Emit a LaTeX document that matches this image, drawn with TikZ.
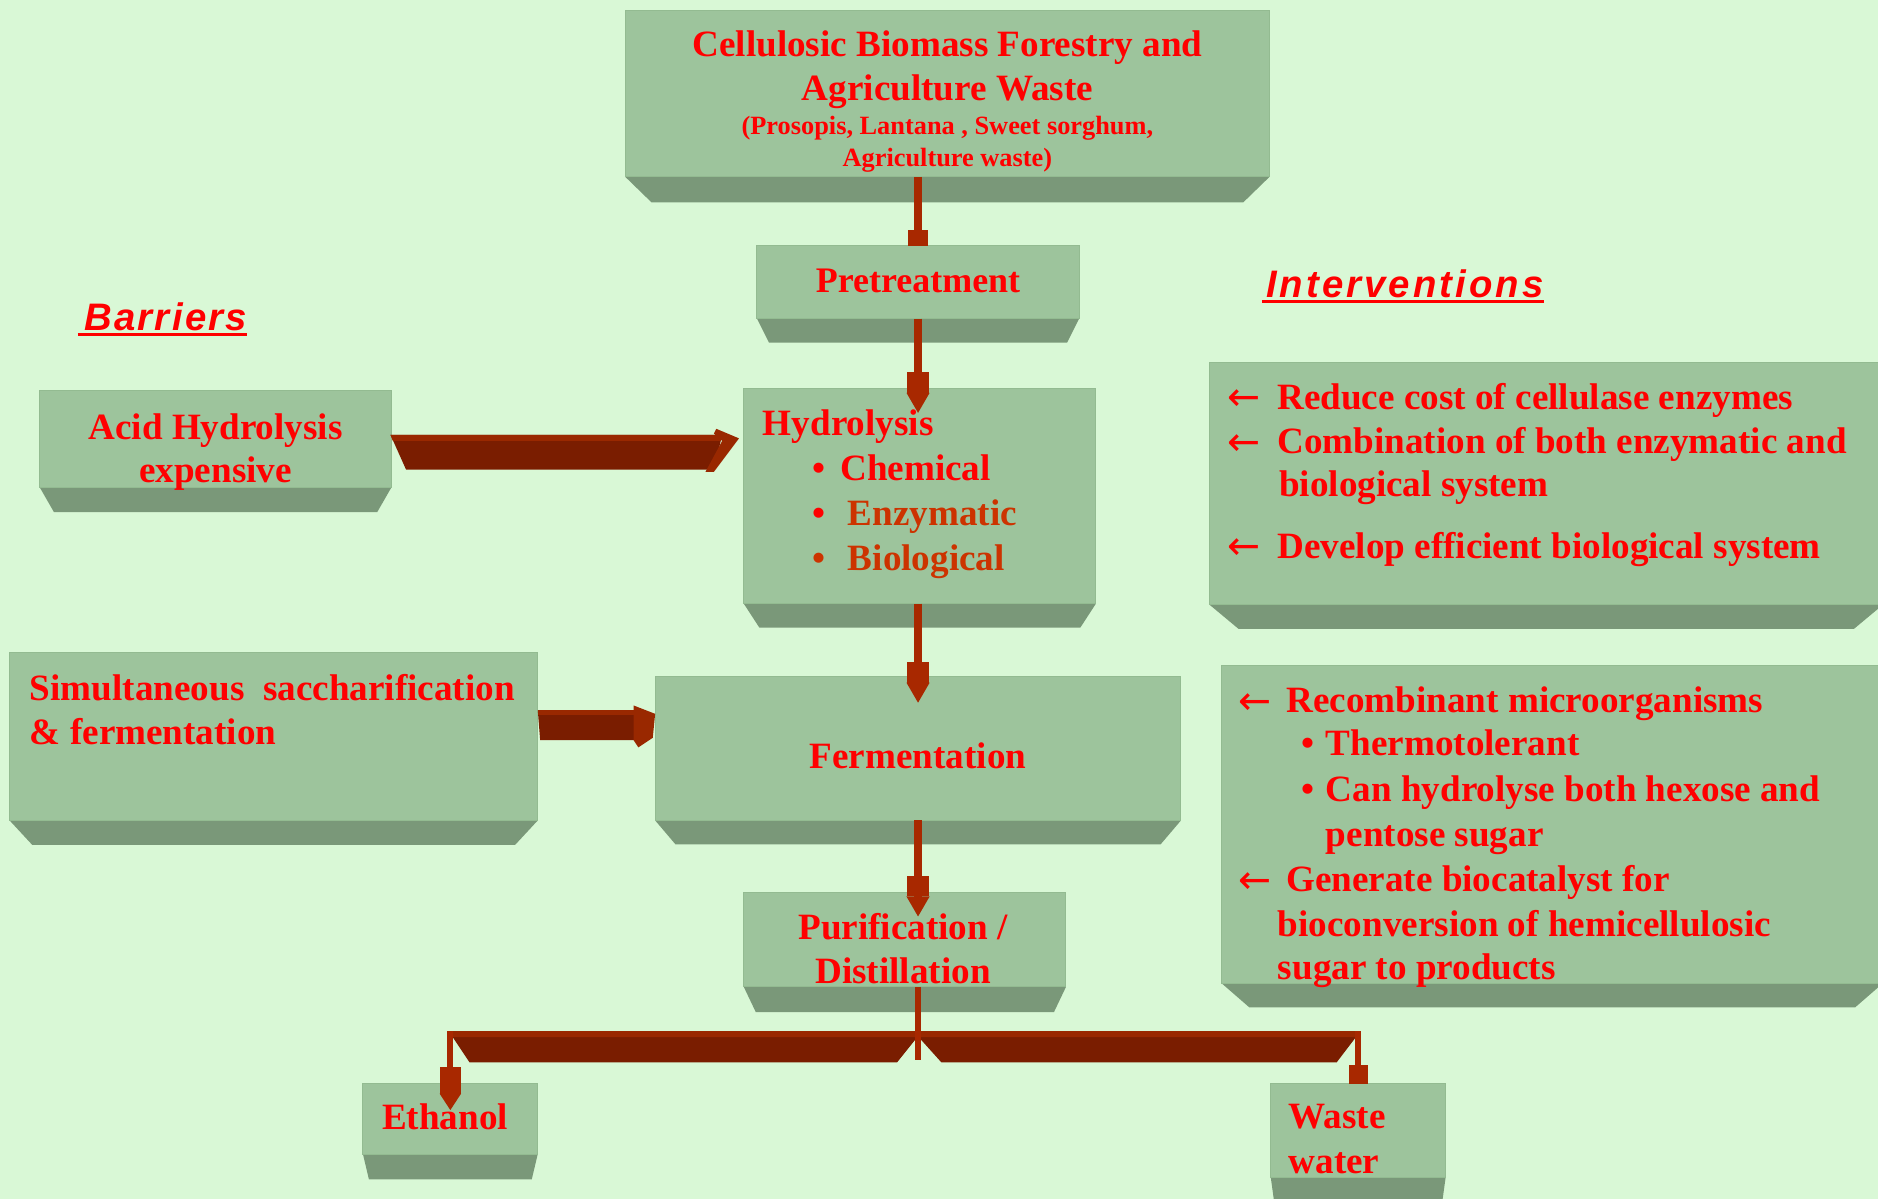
\documentclass[tikz,border=0pt]{standalone}
\usepackage{fontspec}
\setmainfont{Liberation Serif}
\newfontfamily\barfont{Liberation Sans}[LetterSpace=6]
\newfontfamily\intfont{Liberation Sans}[LetterSpace=8]
\newfontfamily\arrfont{DejaVu Sans}
\usetikzlibrary{fit,arrows.meta}
\definecolor{bgc}{HTML}{D9F8D6}
\definecolor{facec}{HTML}{9DC49C}
\definecolor{faceedge}{HTML}{93BB91}
\definecolor{basec}{HTML}{7A9879}
\definecolor{txtred}{HTML}{FF0000}
\definecolor{txtorange}{HTML}{CC3300}
\definecolor{conncol}{HTML}{A82800}
\definecolor{armdark}{HTML}{7A1D00}
\definecolor{armlight}{HTML}{992800}
\tikzset{
  slabface/.style={fill=facec, draw=faceedge, line width=0.8pt, inner sep=0pt, outer sep=0pt},
  slabbase/.style={fill=basec},
  lbl/.style={font=\fontsize{31}{37}\selectfont\bfseries, text=txtred, inner sep=0pt, outer sep=0pt},
  lbls/.style={font=\fontsize{22}{26}\selectfont\bfseries, text=txtred, inner sep=0pt, outer sep=0pt},
  larr/.style={font=\fontsize{33}{37}\selectfont\arrfont, text=txtred, inner sep=0pt, outer sep=0pt, anchor=base west},
  conn/.style={draw=conncol, line width=6pt},
  tipfull/.style={-{Rectangle[length=17pt,width=18pt,sep=0pt]Triangle[length=17pt,width=18pt,sep=0pt]}},
  tipblock/.style={-{Rectangle[length=13pt,width=16pt,sep=0pt]}},
  ul/.style={draw=txtred, line width=2.6pt}
}
\newcommand{\slabbox}[7]{%
  \fill[slabbase] (#2,#5) -- (#4,#5) -- ({#4-#7},#6) -- ({#2+#7},#6) -- cycle;
  \node[slabface, fit={(#2,#3) (#4,#5)}] (#1) {};
}
\begin{document}
\begin{tikzpicture}[x=1pt,y=-1pt]
\fill[bgc] (0,0) rectangle (1568,1001);
\useasboundingbox (0,0) rectangle (1568,1001);

% boxes
\slabbox{title}{522}{8.4}{1060}{147.6}{169}{22}
\slabbox{pre}{632}{205}{901}{266}{286}{10}
\slabbox{acid}{33}{326}{327}{406.6}{427.5}{12}
\slabbox{hyd}{621}{324}{915}{504}{524}{13}
\slabbox{simul}{8}{545}{449}{685}{705.5}{19}
\slabbox{ferm}{547}{565}{986}{685}{705}{17}
\slabbox{purif}{621}{745.5}{890}{824}{845}{10}
\slabbox{eth}{303}{905}{449}{963.5}{984.6}{5}
\slabbox{waste}{1061}{905}{1207}{983}{1012}{4}
\slabbox{intA}{1010}{303}{1572}{505}{525}{24}
\slabbox{intB}{1020}{556}{1572}{821}{841}{23}

% headings
\node[font=\fontsize{32}{36}\selectfont\barfont\bfseries\itshape, text=txtred, inner sep=0pt, anchor=base west] (bar) at (70,276) {Barriers};
\draw[ul] ([shift={(-5,3)}]bar.base west) -- ([shift={(0,3)}]bar.base east);
\node[font=\fontsize{32}{36}\selectfont\intfont\bfseries\itshape, text=txtred, inner sep=0pt, anchor=base west] (intv) at (1057,248) {Interventions};
\draw[ul] ([shift={(-3.5,4)}]intv.base west) -- ([shift={(0,4)}]intv.base east);

% title texts
\node[lbl, anchor=base] (t1) at (791,47) {Cellulosic Biomass Forestry and};
\node[lbl, anchor=base] (t2) at (791,83.5) {Agriculture Waste};
\node[lbls, anchor=base] (t3) at (791,112.7) {(Prosopis, Lantana , Sweet sorghum,};
\node[lbls, anchor=base] (t4) at (791,139) {Agriculture waste)};

\node[lbl, font=\fontsize{30}{36}\selectfont\bfseries, anchor=base] (tpre) at (766.5,244.5) {Pretreatment};

\node[lbl, anchor=base] (ta1) at (180,367) {Acid Hydrolysis};
\node[lbl, anchor=base] (ta2) at (180,403) {expensive};

\node[lbl, anchor=base west] (th0) at (637,364) {Hydrolysis};
\node[lbl, anchor=base west] (hb1) at (678,401) {•};
\node[lbl, anchor=base west] (th1) at (701.5,401) {Chemical};
\node[lbl, anchor=base west] (hb2) at (678,439) {•};
\node[lbl, anchor=base west, text=txtorange] (th2) at (708,439) {Enzymatic};
\node[lbl, anchor=base west, text=txtorange] (hb3) at (678,476) {•};
\node[lbl, anchor=base west, text=txtorange] (th3) at (708,476) {Biological};

\node[lbl, anchor=base west] (ts1) at (25,584.5) {Simultaneous\hspace{0.5em}saccharification};
\node[lbl, anchor=base west] (ts2) at (25,622) {\& fermentation};

\node[lbl, anchor=base] (tf) at (766.5,642) {Fermentation};

\node[lbl, anchor=base] (tp1) at (754,784) {Purification /};
\node[lbl, anchor=base] (tp2) at (754,821) {Distillation};

\node[lbl, anchor=base west] (te) at (319,943) {Ethanol};
\node[lbl, anchor=base west] (tw1) at (1076,942) {Waste};
\node[lbl, anchor=base west] (tw2) at (1076,979.5) {water};

\node[larr] (a1) at (1025,343) {←};
\node[lbl, anchor=base west] (i1) at (1066.5,341.6) {Reduce cost of cellulase enzymes};
\node[larr] (a2) at (1025,380) {←};
\node[lbl, anchor=base west] (i2) at (1066.5,378.5) {Combination of both enzymatic and};
\node[lbl, anchor=base west] (i3) at (1068,414.7) {biological system};
\node[larr] (a3) at (1025,467.5) {←};
\node[lbl, anchor=base west] (i4) at (1066.5,466) {Develop efficient biological system};

\node[larr] (a4) at (1034,596.5) {←};
\node[lbl, anchor=base west] (j1) at (1074,595) {Recombinant microorganisms};
\node[lbl, anchor=base west] (jb1) at (1087,631) {•};
\node[lbl, anchor=base west] (j2) at (1107,631) {Thermotolerant};
\node[lbl, anchor=base west] (jb2) at (1087,669.4) {•};
\node[lbl, anchor=base west] (j3) at (1107,669.4) {Can hydrolyse both hexose and};
\node[lbl, anchor=base west] (j4) at (1107,707) {pentose sugar};
\node[larr] (a5) at (1034,746) {←};
\node[lbl, anchor=base west] (j5) at (1074,744.6) {Generate biocatalyst for};
\node[lbl, anchor=base west] (j6) at (1067,781.5) {bioconversion of hemicellulosic};
\node[lbl, anchor=base west] (j7) at (1067,818) {sugar to products};

% thin connectors
\draw[conn, tipblock] (title.south -| pre.north) -- (pre.north);
\path (hyd.north -| pre.south) coordinate (hn);
\draw[conn, tipfull] (pre.south) -- ([yshift=-21pt]hn);
\path (hyd.south -| ferm.north) coordinate (hs);
\draw[conn, tipfull] (hs) -- ([yshift=-22pt]ferm.north);
\path (purif.north -| ferm.south) coordinate (pn);
\draw[conn, tipfull] (ferm.south) -- ([yshift=-20pt]pn);

% thick arrow acid -> hydrolysis
\fill[armdark] (326,363) -- (603,363) -- (596,392) -- (339,392) -- cycle;
\fill[armlight] (326,363) -- (603,363) -- (602,368) -- (328,368) -- cycle;
\fill[armlight] (598,358) -- (617,366) -- (596,394) -- (589,394) -- (603,368) -- (596,362) -- cycle;

% thick arrow simultaneous -> fermentation
\fill[armdark] (449,593) -- (531,593) -- (531,618) -- (451,618) -- cycle;
\fill[armlight] (449,593) -- (531,593) -- (531,597) -- (449,597) -- cycle;
\fill[armlight] (529,589) -- (547,596) -- (545,616) -- (533,624) -- (529,618) -- cycle;

% branch to products
\coordinate (split) at (766.5,885);
\coordinate (lbar) at (376,861);
\coordinate (rbar) at (1134,861);
\fill[armdark] (lbar) -- (765,861) -- (765,867) -- (749,887) -- (392,887) -- (378,866) -- cycle;
\fill[armlight] (lbar) -- (765,861) -- (765,866) -- (377,866) -- cycle;
\fill[armdark] (768,861) -- (rbar) -- (1132,866) -- (1116,887) -- (786,887) -- (768,867) -- cycle;
\fill[armlight] (768,861) -- (rbar) -- (1133,866) -- (768,866) -- cycle;
\draw[conn, line width=5pt] (purif.south -| split) -- (split);
\draw[conn, line width=5pt, -{Rectangle[length=22pt,width=17pt,sep=0pt]Triangle[length=14pt,width=17pt,sep=0pt]}] (lbar) -- ([yshift=-22pt]eth.north);
\draw[conn, line width=5pt, -{Rectangle[length=16pt,width=16pt,sep=0pt]}] (rbar) -- (waste.north);
\end{tikzpicture}
\end{document}
